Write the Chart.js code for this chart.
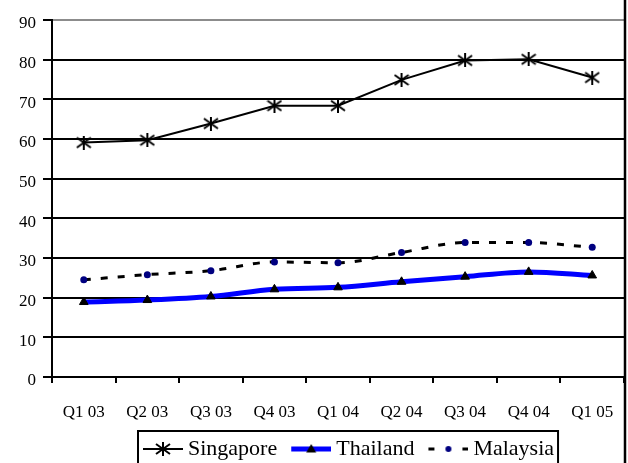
<!DOCTYPE html>
<html>
<head>
<meta charset="utf-8">
<script src="https://cdn.jsdelivr.net/npm/chart.js@4.4.1/dist/chart.umd.min.js"></script>
<style>
  html, body { margin: 0; padding: 0; background: #fff; }
  canvas { display: block; }
</style>
</head>
<body>
<canvas id="c" width="628" height="463"></canvas>
<script>
// Quarterly index values by country
const quarters  = ['Q1 03', 'Q2 03', 'Q3 03', 'Q4 03', 'Q1 04', 'Q2 04', 'Q3 04', 'Q4 04', 'Q1 05'];
const singapore = [59.1, 59.7, 63.9, 68.4, 68.4, 74.9, 79.8, 80.1, 75.5];
const thailand  = [18.9, 19.4, 20.3, 22.1, 22.6, 24.0, 25.3, 26.5, 25.6];
const malaysia  = [24.5, 25.8, 26.8, 29.0, 28.8, 31.4, 33.9, 33.9, 32.7];
const yMin = 0, yMax = 90, yStep = 10;

const SERIF = "'Liberation Serif', 'Times New Roman', serif";
const LEGEND_LEFT = 129;
const LEGEND_TOP = 428;

// Asterisk marker (vertical bar plus an X)
function makeStar() {
  const c = document.createElement('canvas');
  c.width = 16; c.height = 14;
  const g = c.getContext('2d');
  g.strokeStyle = '#000'; g.lineWidth = 2;
  g.beginPath();
  g.moveTo(8, 0); g.lineTo(8, 14);
  g.moveTo(1, 2); g.lineTo(15, 12);
  g.moveTo(1, 12); g.lineTo(15, 2);
  g.stroke();
  return c;
}

// Legend swatches: a short line sample with the series marker in the middle
function makeIcon(kind) {
  const c = document.createElement('canvas');
  c.width = 50; c.height = 20;
  const g = c.getContext('2d');
  const x0 = 10, x1 = 50, cy = 10, mx = 30;
  if (kind === 'sg') {
    g.strokeStyle = '#000'; g.lineWidth = 2;
    g.beginPath(); g.moveTo(x0, cy); g.lineTo(x1, cy); g.stroke();
    g.drawImage(makeStar(), mx - 8, cy - 7);
  } else if (kind === 'th') {
    g.strokeStyle = '#0000FF'; g.lineWidth = 5;
    g.beginPath(); g.moveTo(x0, cy); g.lineTo(x1, cy); g.stroke();
    g.fillStyle = '#000';
    g.beginPath(); g.moveTo(mx, cy - 5); g.lineTo(mx + 5, cy + 3.5); g.lineTo(mx - 5, cy + 3.5); g.closePath(); g.fill();
  } else {
    g.strokeStyle = '#000'; g.lineWidth = 3;
    g.setLineDash([6, 28]);
    g.beginPath(); g.moveTo(x0, cy); g.lineTo(x1, cy); g.stroke();
    g.setLineDash([]);
    g.fillStyle = '#000080';
    g.beginPath(); g.arc(mx, cy, 3, 0, Math.PI * 2); g.fill();
  }
  return c;
}

const starMarker = makeStar();
const legendIcons = [makeIcon('sg'), makeIcon('th'), makeIcon('my')];

// Places the legend row and draws its frame plus the outer right border
const framePlugin = {
  id: 'frame',
  afterLayout(chart) {
    const lg = chart.legend;
    if (!lg) return;
    const h = lg.height;
    lg.left = LEGEND_LEFT; lg.right = chart.width; lg.width = lg.right - lg.left;
    lg.top = LEGEND_TOP; lg.bottom = LEGEND_TOP + h;
  },
  afterDraw(chart) {
    const ctx = chart.ctx;
    const lg = chart.legend;
    const pad = lg.options.labels.padding;
    const x0 = lg.left + pad;
    const right = x0 + lg.lineWidths[0] - pad + 4;
    ctx.save();
    ctx.strokeStyle = '#000';
    ctx.lineWidth = 2;
    ctx.strokeRect(x0 - 1, 431, right - (x0 - 1), 80);
    ctx.lineWidth = 2.5;
    ctx.beginPath(); ctx.moveTo(625, 0); ctx.lineTo(625, chart.height); ctx.stroke();
    ctx.restore();
  }
};

new Chart(document.getElementById('c'), {
  type: 'line',
  data: {
    labels: quarters,
    datasets: [
      {
        label: 'Singapore', data: singapore,
        borderColor: '#000', borderWidth: 2, tension: 0,
        pointStyle: starMarker, pointRadius: 7,
        backgroundColor: '#000'
      },
      {
        label: 'Thailand', data: thailand,
        borderColor: '#0000FF', borderWidth: 5, cubicInterpolationMode: 'monotone',
        pointStyle: 'triangle', pointRadius: 5,
        pointBackgroundColor: '#000', pointBorderColor: '#000', pointBorderWidth: 1,
        backgroundColor: '#0000FF'
      },
      {
        label: 'Malaysia', data: malaysia,
        borderColor: '#000', borderWidth: 3, borderDash: [7, 10], cubicInterpolationMode: 'monotone',
        pointStyle: 'circle', pointRadius: 3.5,
        pointBackgroundColor: '#000080', pointBorderColor: '#000080', pointBorderWidth: 0,
        backgroundColor: '#000080'
      }
    ]
  },
  options: {
    responsive: false,
    animation: false,
    devicePixelRatio: 1,
    layout: { autoPadding: false, padding: { top: 20, right: 4, bottom: 0, left: 0 } },
    plugins: {
      tooltip: { enabled: false },
      legend: {
        position: 'bottom',
        align: 'start',
        labels: {
          usePointStyle: true,
          pointStyleWidth: 38,
          padding: 10,
          color: '#000',
          font: { family: SERIF, size: 22 },
          generateLabels(chart) {
            const items = Chart.defaults.plugins.legend.labels.generateLabels(chart);
            items.forEach((it, i) => { it.pointStyle = legendIcons[i]; it.rotation = 0; });
            return items;
          }
        }
      }
    },
    scales: {
      x: {
        type: 'category',
        offset: true,
        afterFit(s) { s.height = 44; s.paddingLeft = 0; s.paddingRight = 0; },
        grid: { offset: true, drawOnChartArea: false, tickLength: 6, color: '#000', lineWidth: 2 },
        border: { color: '#000', width: 2 },
        ticks: { color: '#000', font: { family: SERIF, size: 17 }, padding: 19, maxRotation: 0, autoSkip: false }
      },
      y: {
        min: yMin, max: yMax,
        afterFit(s) { s.width = 52; },
        grid: {
          color: (c) => (c.tick && c.tick.value === yMax ? '#8c8c8c' : '#000'),
          tickColor: '#000',
          lineWidth: 2, tickLength: 9
        },
        border: { color: '#000', width: 2 },
        ticks: { stepSize: yStep, color: '#000', font: { family: SERIF, size: 17 }, padding: 7, labelOffset: 4 }
      }
    }
  },
  plugins: [framePlugin]
});
</script>
</body>
</html>
